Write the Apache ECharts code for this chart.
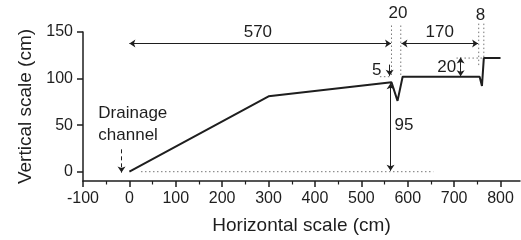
<!DOCTYPE html>
<html>
<head>
<meta charset="utf-8">
<script src="https://cdn.jsdelivr.net/npm/echarts@6/dist/echarts.min.js"></script>
<style>
html, body { margin: 0; padding: 0; background: #fff; }
#chart { width: 521px; height: 240px; }
</style>
</head>
<body>
<div id="chart"></div>
<script>
// axis ticks
var xTicks = [-100, 0, 100, 200, 300, 400, 500, 600, 700, 800];
var xMinorTicks = [-50, 50, 150, 250, 350, 450, 550, 650, 750];
var yTicks = [0, 50, 100, 150];

// ground profile (cm)
var profileX = [0, 300, 565, 578, 589, 755, 760, 764, 800];
var profileY = [0, 81, 96, 76, 102, 102, 92, 122, 122];

// dotted guide lines [x1, y1, x2, y2]
var dottedLines = [
    [25, 0, 655, 0],
    [540, 102, 565, 102],
    [565, 157, 565, 102],
    [585, 157, 585, 102],
    [705, 122, 764, 122],
    [753, 159, 753, 112],
    [764, 159, 764, 122]
];

// dimension arrows [x1, y1, x2, y2, heads, style]
var arrows = [
    [0, 137.6, 564, 137.6, 'both', 'solid'],
    [586.5, 137.6, 751.7, 137.6, 'both', 'solid'],
    [561, 115, 561, 103, 'end', 'solid'],
    [714, 102.5, 714, 122.5, 'both', 'solid'],
    [563, 1, 563, 95, 'both', 'solid'],
    [-17, 24, -17, -1, 'end', 'dashed']
];

// annotation texts [text, x, y]
var annoTexts = [
    ['570', 277, 150],
    ['170', 669, 150],
    ['20', 579, 170],
    ['8', 757, 168],
    ['5', 533, 109],
    ['20', 684, 112.6],
    ['95', 592, 50]
];
var channelText = ['Drainage\nchannel', -67, 51];

var ink = '#1e1e1e';
var font = 'Liberation Sans, Arial, sans-serif';

var series = [];

series.push({
    type: 'line',
    data: profileX.map(function (x, i) { return [x, profileY[i]]; }),
    symbol: 'none',
    clip: false,
    lineStyle: { color: ink, width: 2 },
    z: 5
});

dottedLines.forEach(function (d) {
    series.push({
        type: 'line',
        data: [[d[0], d[1]], [d[2], d[3]]],
        symbol: 'none',
        clip: false,
        lineStyle: { color: '#777', width: 1, type: [1.5, 2.5] },
        z: 3
    });
});

series.push({
    type: 'line',
    data: [],
    markLine: {
        silent: true,
        animation: false,
        symbolSize: 6,
        label: { show: false },
        data: arrows.map(function (a) {
            return [
                { coord: [a[0], a[1]], symbol: a[4] === 'both' ? 'arrow' : 'none',
                  lineStyle: { color: ink, width: 1, type: a[5] === 'dashed' ? [4, 3] : 'solid' } },
                { coord: [a[2], a[3]], symbol: 'arrow' }
            ];
        })
    }
});

series.push({
    type: 'scatter',
    symbolSize: 0,
    clip: false,
    silent: true,
    itemStyle: { opacity: 1 },
    label: {
        show: true,
        position: 'inside',
        formatter: '{b}',
        color: ink,
        opacity: 1,
        fontSize: 17,
        fontFamily: font
    },
    data: annoTexts.map(function (t) { return { name: t[0], value: [t[1], t[2]] }; }).concat([{
        name: channelText[0],
        value: [channelText[1], channelText[2]],
        label: { align: 'left', lineHeight: 22 }
    }])
});

var option = {
    animation: false,
    grid: { left: 83, right: 1, top: 32, bottom: 58 },
    xAxis: [{
        type: 'value',
        min: -100,
        max: 842,
        position: 'bottom',
        name: 'Horizontal scale (cm)',
        nameLocation: 'middle',
        nameGap: 35,
        nameTextStyle: { color: ink, fontSize: 19, fontFamily: font },
        axisLine: { onZero: false, lineStyle: { color: ink, width: 1.5 } },
        axisTick: { customValues: xTicks, length: 6, lineStyle: { color: ink, width: 1.5 } },
        axisLabel: { customValues: xTicks, color: ink, fontSize: 16, fontFamily: font, margin: 10 },
        splitLine: { show: false }
    }, {
        type: 'value',
        min: -100,
        max: 842,
        position: 'bottom',
        axisLine: { show: false, onZero: false },
        axisTick: { customValues: xMinorTicks, length: 3.5, lineStyle: { color: ink, width: 1.2 } },
        axisLabel: { show: false },
        splitLine: { show: false }
    }],
    yAxis: {
        type: 'value',
        min: -10,
        max: 150,
        name: 'Vertical scale (cm)',
        nameLocation: 'middle',
        nameGap: 48,
        nameTextStyle: { color: ink, fontSize: 19, fontFamily: font },
        axisLine: { onZero: false, lineStyle: { color: ink, width: 1.5 } },
        axisTick: { customValues: yTicks, length: 6, lineStyle: { color: ink, width: 1.5 } },
        axisLabel: { customValues: yTicks, color: ink, fontSize: 16, fontFamily: font, margin: 10 },
        splitLine: { show: false }
    },
    series: series
};

var chart = echarts.init(document.getElementById('chart'));
chart.setOption(option);
</script>
</body>
</html>
